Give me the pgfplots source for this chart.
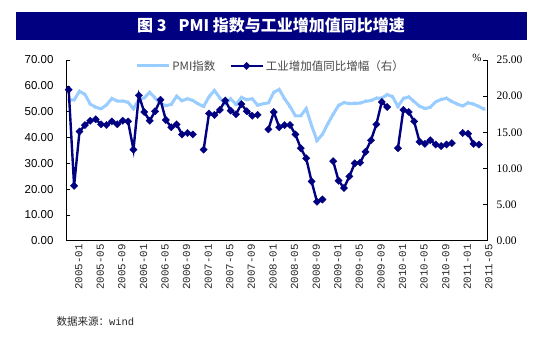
\documentclass[border=0pt]{standalone}
\usepackage{fontspec}
\setmainfont{Liberation Serif}
\setsansfont{Liberation Sans}
\newfontfamily\cjk{Noto Sans CJK SC}
\newfontfamily\monof{Liberation Mono}
\usepackage{pgfplots}
\usepackage{pgfplotstable}
\pgfplotsset{compat=1.18}
\definecolor{navy}{RGB}{0,0,128}
\definecolor{lightb}{RGB}{153,204,255}
\definecolor{titlebar}{RGB}{0,0,128}
\definecolor{legtext}{RGB}{70,70,70}

\pgfplotstableread{
x pmi
0 54.7
1 54.5
2 57.9
3 56.7
4 52.9
5 51.7
6 51.1
7 52.6
8 55.1
9 54.1
10 54.1
11 53.6
12 51.1
13 54.8
14 55.3
15 57.5
16 55.3
17 53.2
18 52.3
19 52.8
20 56.0
21 54.2
22 55.0
23 54.3
24 53.0
25 52.0
26 55.8
27 58.2
28 55.3
29 53.0
30 55.0
31 52.8
32 55.5
33 54.6
34 55.0
35 52.5
36 53.0
37 53.4
38 57.5
39 58.6
40 55.0
41 52.0
42 48.4
43 48.4
44 51.2
45 44.6
46 38.8
47 41.2
48 45.3
49 49.0
50 52.4
51 53.5
52 53.1
53 53.2
54 53.3
55 54.0
56 54.3
57 55.2
58 55.2
59 56.6
60 55.8
61 52.0
62 55.1
63 55.7
64 53.9
65 52.1
66 51.2
67 51.7
68 53.8
69 54.7
70 55.2
71 53.9
72 52.9
73 52.2
74 53.4
75 52.9
76 52.0
77 50.9
}\pmidata

\pgfplotstableread{
x ind
0 20.9
1 7.6
2 15.1
3 16.0
4 16.6
5 16.8
6 16.1
7 16.0
8 16.5
9 16.1
10 16.6
11 16.5
12 12.6
13 20.1
14 17.8
15 16.6
16 17.9
17 19.5
18 16.7
19 15.7
20 16.1
21 14.7
22 14.9
23 14.7
24 nan
25 12.6
26 17.6
27 17.4
28 18.1
29 19.4
30 18.0
31 17.5
32 18.9
33 17.9
34 17.3
35 17.4
36 nan
37 15.4
38 17.8
39 15.7
40 16.0
41 16.0
42 14.7
43 12.8
44 11.4
45 8.2
46 5.4
47 5.7
48 nan
49 11.0
50 8.3
51 7.3
52 8.9
53 10.7
54 10.8
55 12.3
56 13.9
57 16.1
58 19.2
59 18.5
60 nan
61 12.8
62 18.1
63 17.8
64 16.5
65 13.7
66 13.4
67 13.9
68 13.3
69 13.1
70 13.3
71 13.5
72 nan
73 14.9
74 14.8
75 13.4
76 13.3
}\inddata

\pgfplotsset{
  common/.style={
    scale only axis, width=421bp, height=180.7bp,
    at={(0,0)}, anchor=south west,
    xmin=-0.5, xmax=77.5,
    unbounded coords=jump,
    tick align=inside,
    major tick length=4bp,
    every tick/.style={black, line width=0.6bp},
    axis line style={black, line width=0.9bp},
    /pgf/number format/assume math mode=true,
    clip=false,
  },
  pmistyle/.style={lightb, line width=3bp, mark=triangle*, mark size=1.8bp,
    mark options={lightb, line width=0.4bp}},
  indstyle/.style={navy, line width=2.4bp, mark=square*, mark size=2.6bp,
    mark options={navy, rotate=45, line width=0.3bp}},
}

\begin{document}
\begin{tikzpicture}[x=1bp,y=1bp]
\useasboundingbox (-66,-96.3) rectangle (494,240.7);
\fill[titlebar] (-50,201) rectangle (461,228.7);
\node[text=white,font=\cjk\bfseries\fontsize{16bp}{18bp}\selectfont] at (205,214.8) {图 3\hspace{12bp}PMI 指数与工业增加值同比增速};
\node[anchor=west,font=\fontsize{10.5bp}{12bp}\selectfont,text=black!85] at (-13,-81) {{\cjk 数据来源：}{\monof wind}};
\node[anchor=south,font=\fontsize{11bp}{12bp}\selectfont] at (411,176) {\%};

\begin{axis}[common,
  axis x line*=bottom, axis y line*=left,
  ymin=0, ymax=70,
  ytick={0,10,...,70},
  yticklabel style={font=\sffamily\fontsize{11.5bp}{12bp}\selectfont, xshift=-9bp,
    /pgf/number format/.cd, fixed, fixed zerofill, precision=2},
  xtick={0,4,...,76},
  xticklabels={2005-01,2005-05,2005-09,2006-01,2006-05,2006-09,2007-01,2007-05,2007-09,2008-01,2008-05,2008-09,2009-01,2009-05,2009-09,2010-01,2010-05,2010-09,2011-01,2011-05},
  x tick label style={rotate=90, anchor=east, yshift=-10bp, text=black!85, font=\monof\fontsize{10.8bp}{11bp}\selectfont},
  x tick style={draw=none},
  minor xtick={-0.5,0.5,...,77.5},
  minor x tick style={black, line width=0.6bp},
  minor tick length=3.5bp,
]
\addplot[pmistyle] table[x=x,y=pmi] {\pmidata};
\end{axis}

\begin{axis}[common,
  axis x line=none, axis y line*=right,
  ymin=0, ymax=25,
  ytick={0,5,...,25},
  yticklabel style={font=\rmfamily\fontsize{11.5bp}{12bp}\selectfont, xshift=6bp,
    /pgf/number format/.cd, fixed, fixed zerofill, precision=2},
  legend style={at={(0.486,0.967)}, anchor=center, draw=none, fill=none,
    legend columns=2, font=\cjk\fontsize{11.5bp}{13bp}\selectfont, text=legtext,
    /tikz/every even column/.append style={column sep=12bp},
    inner sep=0pt},
  legend image code/.code={\draw[mark repeat=2, mark phase=2, #1] plot coordinates {(0bp,0bp) (16bp,0bp) (32bp,0bp)};},
]
\addlegendimage{pmistyle}
\addlegendentry{PMI指数}
\addplot[indstyle] table[x=x,y=ind] {\inddata};
\addlegendentry{工业增加值同比增幅（右）}
\end{axis}
\end{tikzpicture}
\end{document}
